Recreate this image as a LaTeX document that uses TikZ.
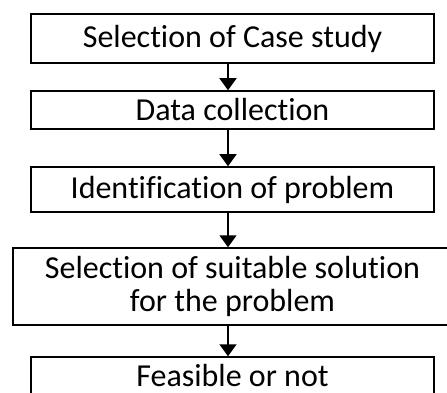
\documentclass[tikz,border=0pt]{standalone}
\usepackage{fontspec}
\setmainfont{Carlito}[Ligatures=NoCommon]
\usetikzlibrary{arrows.meta}

\begin{document}
\begin{tikzpicture}[x=1pt,y=-1pt,font=\fontsize{32}{33}\selectfont,
  stepbox/.style={draw,line width=1.5pt,align=center,inner sep=0pt,minimum width=403pt},
  flow/.style={-{Triangle[width=17pt,length=12pt]},line width=1.6pt}]

\useasboundingbox (0,0) rectangle (447,393);
\clip (0,0) rectangle (447,393);

% the steps, top to bottom
\node[stepbox,minimum height=49pt] (case) at (232.5,38.5) {Selection of Case study};
\node[stepbox,minimum height=38pt] (data) at (232.5,110) {Data collection};
\node[stepbox,minimum height=45pt] (ident) at (232.5,189.5) {Identification of problem};
\node[stepbox,minimum height=77pt,minimum width=439pt] (sol) at (232.5,286.5) {Selection of suitable solution\\for the problem};
\node[stepbox,minimum height=38pt] (feas) at (232.5,376) {Feasible or not};

% arrows between them
\draw[flow] ([xshift=-4.5pt]case.south) -- ([xshift=-4.5pt]data.north);
\draw[flow] ([xshift=-4.5pt]data.south) -- ([xshift=-4.5pt]ident.north);
\draw[flow] ([xshift=-4.5pt]ident.south) -- ([xshift=-4.5pt]sol.north);
\draw[flow] ([xshift=-4.5pt]sol.south) -- ([xshift=-4.5pt]feas.north);

\end{tikzpicture}
\end{document}
